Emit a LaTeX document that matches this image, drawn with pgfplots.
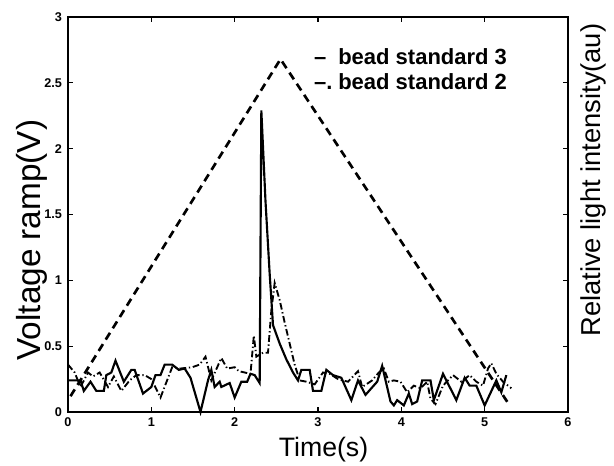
\documentclass[border=0pt]{standalone}
\usepackage{fontspec}
\setmainfont{Liberation Sans}
\usepackage{pgfplots}
\pgfplotsset{compat=1.18}
\begin{document}
\begin{tikzpicture}
\begin{axis}[
  width=375pt, height=296.25pt, scale only axis,
  xmin=0, xmax=6, ymin=0, ymax=3,
  xtick={0,1,2,3,4,5,6},
  ytick={0,0.5,1,1.5,2,2.5,3},
  yticklabels={0,0.5,1,1.5,2,2.5,3},
  tick align=inside, major tick length=4pt,
  axis line style={line width=1.4pt},
  tick style={line width=0.9pt, black},
  ticklabel style={font=\fontsize{9.5}{10}\selectfont\bfseries},
  /pgf/number format/assume math mode=true,
  xticklabel style={yshift=-1pt},
  yticklabel style={xshift=-1pt},
  xlabel={Time(s)},
  ylabel={Voltage ramp(V)},
  xlabel style={font=\fontsize{20}{24}\selectfont, at={(rel axis cs:0.511,-0.096)}, anchor=center},
  ylabel style={font=\fontsize{25}{28}\selectfont, at={(rel axis cs:-0.0726,0.435)}, anchor=center},
  clip=false,
]
\addplot[black, line width=2pt, dash pattern=on 6pt off 4pt] coordinates {
(0.03,0.12) (2.55,2.68) (5.3,0.05)};
\addplot[black, line width=1.6pt] coordinates {
(0,0.24) (0.15,0.24) (0.19,0.16) (0.27,0.23) (0.34,0.16) (0.43,0.16) (0.46,0.28) (0.52,0.3) (0.57,0.39) (0.67,0.23) (0.76,0.32) (0.8,0.32) (0.9,0.14) (1.0,0.19) (1.05,0.28) (1.11,0.28) (1.16,0.36) (1.25,0.36) (1.33,0.32) (1.4,0.33) (1.47,0.26) (1.59,0) (1.68,0.24) (1.72,0.32) (1.76,0.19) (1.82,0.23) (1.84,0.19) (1.94,0.22) (2.0,0.11) (2.08,0.23) (2.15,0.23) (2.19,0.29) (2.24,0.28) (2.3,0.22) (2.32,2.29) (2.37,1.6) (2.42,1.05) (2.46,0.66) (2.54,0.52) (2.62,0.4) (2.7,0.3) (2.76,0.24) (2.8,0.32) (2.9,0.32) (2.94,0.16) (3.04,0.16) (3.1,0.32) (3.18,0.28) (3.28,0.26) (3.4,0.09) (3.48,0.24) (3.57,0.13) (3.71,0.23) (3.77,0.35) (3.87,0.08) (3.91,0.05) (3.95,0.09) (4.03,0.05) (4.09,0.14) (4.13,0.06) (4.19,0.08) (4.25,0.24) (4.35,0.24) (4.39,0.09) (4.5,0.29) (4.66,0.09) (4.76,0.26) (4.82,0.2) (4.9,0.2) (5.0,0.05) (5.14,0.24) (5.2,0.15) (5.26,0.28)};
\addplot[black, line width=1.4pt, dash pattern=on 5pt off 2pt on 1pt off 2pt] coordinates {
(0,0.36) (0.08,0.3) (0.15,0.19) (0.24,0.3) (0.3,0.27) (0.38,0.3) (0.48,0.19) (0.55,0.27) (0.64,0.16) (0.74,0.24) (0.82,0.28) (0.92,0.28) (1.0,0.25) (1.11,0.11) (1.25,0.34) (1.35,0.33) (1.49,0.34) (1.58,0.36) (1.65,0.42) (1.72,0.24) (1.84,0.41) (1.91,0.33) (2.0,0.34) (2.05,0.31) (2.19,0.29) (2.23,0.58) (2.26,0.42) (2.34,0.45) (2.4,0.45) (2.44,0.77) (2.48,0.98) (2.54,0.85) (2.6,0.68) (2.66,0.52) (2.72,0.36) (2.78,0.24) (2.86,0.23) (2.96,0.21) (3.06,0.3) (3.14,0.29) (3.24,0.25) (3.36,0.23) (3.48,0.31) (3.53,0.19) (3.65,0.24) (3.73,0.3) (3.79,0.33) (3.85,0.23) (3.91,0.24) (3.99,0.23) (4.07,0.15) (4.15,0.2) (4.23,0.18) (4.31,0.23) (4.35,0.1) (4.41,0.06) (4.5,0.2) (4.62,0.28) (4.72,0.23) (4.82,0.28) (4.9,0.23) (4.98,0.2) (5.04,0.33) (5.08,0.37) (5.14,0.29) (5.22,0.23) (5.32,0.18)};
\node[anchor=base west, font=\fontsize{16.5}{18}\selectfont\bfseries, inner sep=0pt] at (axis cs:2.95,2.64) {--};
\node[anchor=base west, font=\fontsize{16.5}{18}\selectfont\bfseries, inner sep=0pt] at (axis cs:3.24,2.64) {bead standard 3};
\node[anchor=base west, font=\fontsize{16.5}{18}\selectfont\bfseries, inner sep=0pt] at (axis cs:2.95,2.45) {--.};
\node[anchor=base west, font=\fontsize{16.5}{18}\selectfont\bfseries, inner sep=0pt] at (axis cs:3.24,2.45) {bead standard 2};
\node[rotate=90, anchor=center, font=\fontsize{20.5}{24}\selectfont] at (rel axis cs:1.05,0.587) {Relative light intensity(au)};
\end{axis}
\pgfresetboundingbox
\path (current axis.south west) ++(-51pt,-40.5pt);
\path (current axis.north east) ++(34.5pt,12.75pt);
\end{tikzpicture}
\end{document}
